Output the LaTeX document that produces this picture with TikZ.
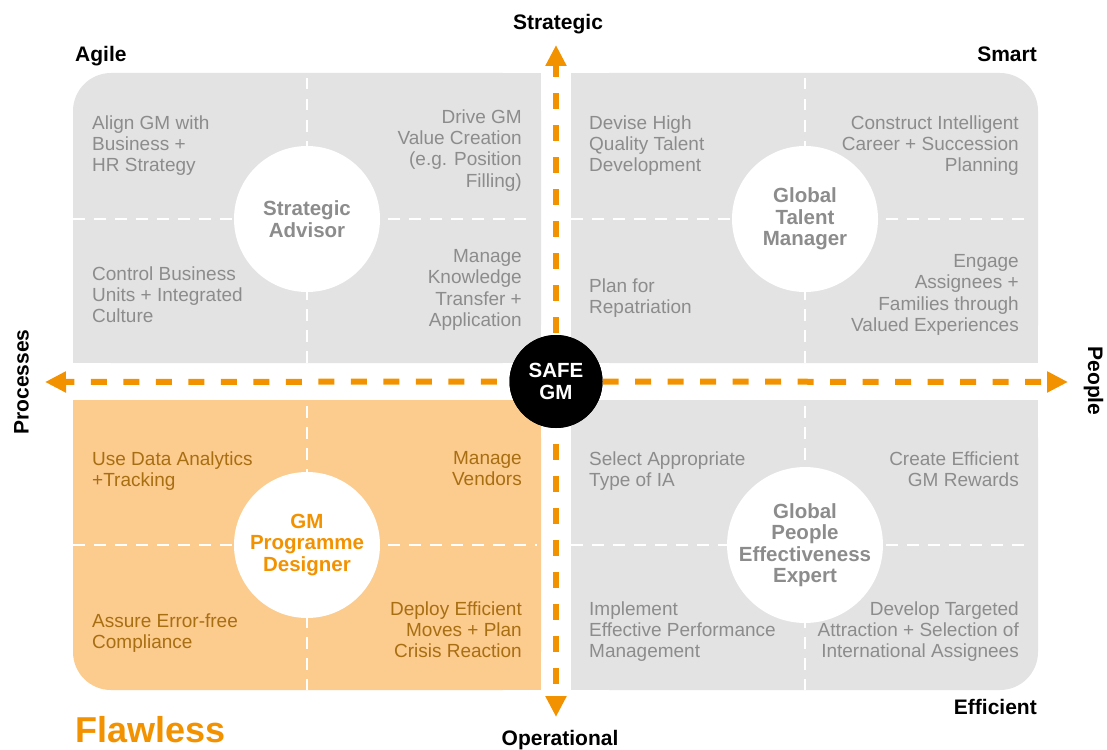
\documentclass[tikz,border=0pt]{standalone}
\usepackage{fontspec}
\setmainfont{Liberation Sans}
\usetikzlibrary{arrows.meta}
\definecolor{panelgray}{HTML}{E3E3E3}
\definecolor{panelorange}{HTML}{FCCB8E}
\definecolor{accent}{HTML}{F39200}
\definecolor{txtgray}{HTML}{8C8C8C}
\definecolor{txtbrown}{HTML}{A86E12}

\begin{document}
\begin{tikzpicture}[x=1pt,y=-1pt,
  body/.style={inner sep=0pt, font=\fontsize{19}{21.3}\selectfont, text=txtgray},
  bodyL/.style={body, anchor=north west, align=left},
  bodyR/.style={body, anchor=north east, align=right},
  role/.style={circle, fill=white, minimum size=146pt, inner sep=0pt, align=center,
               font=\bfseries\fontsize{20.5}{21.5}\selectfont, text=txtgray},
  corner/.style={inner sep=0pt, font=\bfseries\fontsize{21}{23}\selectfont},
  divider/.style={draw=white, line width=2.7pt, dash pattern=on 11.5pt off 9.5pt},
  axisline/.style={draw=accent, line width=6pt, -{Triangle[length=21pt, width=20pt]}},
]
\useasboundingbox (0,0) rectangle (1107,749);

% quadrant panels, outer corners rounded
\fill[panelgray, rounded corners=38pt] (73,73) rectangle (541,363);
\fill[panelgray] (200,73) rectangle (541,363);
\fill[panelgray] (73,200) rectangle (541,363);

\fill[panelgray, rounded corners=38pt] (571,73) rectangle (1038,363);
\fill[panelgray] (571,73) rectangle (900,363);
\fill[panelgray] (571,200) rectangle (1038,363);

\fill[panelorange, rounded corners=38pt] (73,400) rectangle (541,690);
\fill[panelorange] (200,400) rectangle (541,690);
\fill[panelorange] (73,400) rectangle (541,560);

\fill[panelgray, rounded corners=38pt] (571,400) rectangle (1038,690);
\fill[panelgray] (571,400) rectangle (900,690);
\fill[panelgray] (571,400) rectangle (1038,560);

% dashed dividers inside each panel
\draw[divider] (307,78) -- (307,363);
\draw[divider] (73,219) -- (533,219);
\draw[divider] (805,78) -- (805,363);
\draw[divider] (571,219) -- (1026,219);
\draw[divider] (307,406) -- (307,690);
\draw[divider] (73,545) -- (537,545);
\draw[divider] (805,406) -- (805,690);
\draw[divider] (571,545) -- (1030,545);

% role circles
\node[role] (sa) at (307,219) {Strategic\\Advisor};
\node[role] (gtm) at (805,219) {Global\\Talent\\Manager};
\node[role, text=accent] (gpd) at (307,545) {GM\\Programme\\Designer};
\node[role] (gpe) at (805,545) {Global\\People\\Effectiveness\\Expert};

% activities, strategic / processes
\node[bodyL] (t1) at (92,115.3) {Align GM with\\Business +\\HR Strategy};
\node[bodyR] (t2) at (522,109.3) {Drive GM\\Value Creation\\(e.g. Position\\Filling)};
\node[bodyL] (t3) at (92,266.3) {Control Business\\Units + Integrated\\Culture};
\node[bodyR] (t4) at (522,249.3) {Manage\\Knowledge\\Transfer +\\Application};

% activities, strategic / people
\node[bodyL] (t5) at (589,115.3) {Devise High\\Quality Talent\\Development};
\node[bodyR] (t6) at (1019,115.3) {Construct Intelligent\\Career + Succession\\Planning};
\node[bodyL] (t7) at (589,278.3) {Plan for\\Repatriation};
\node[bodyR] (t8) at (1019,254.3) {Engage\\Assignees +\\Families through\\Valued Experiences};

% activities, operational / processes
\node[bodyL, text=txtbrown] (t9) at (92,451.3) {Use Data Analytics\\+Tracking};
\node[bodyR, text=txtbrown] (t10) at (522,451.3) {Manage\\Vendors};
\node[bodyL, text=txtbrown] (t11) at (92,613.3) {Assure Error-free\\Compliance};
\node[bodyR, text=txtbrown] (t12) at (522,601.3) {Deploy Efficient\\Moves + Plan\\Crisis Reaction};

% activities, operational / people
\node[bodyL] (t13) at (589,451.3) {Select Appropriate\\Type of IA};
\node[bodyR] (t14) at (1019,451.3) {Create Efficient\\GM Rewards};
\node[bodyL] (t15) at (589,601.3) {Implement\\Effective Performance\\Management};
\node[bodyR] (t16) at (1019,601.3) {Develop Targeted\\Attraction + Selection of\\International Assignees};

% axes
\coordinate (up) at (556,45);
\coordinate (down) at (556,717);
\coordinate (left) at (45,382);
\coordinate (right) at (1068,382);
\node[circle, fill=black, minimum size=93pt, inner sep=0pt] (safe) at (556,381.5) {};
\draw[axisline, dash pattern=on 16pt off 16pt, dash phase=30pt] (safe) -- (up);
\draw[axisline, dash pattern=on 16pt off 16pt, dash phase=16pt] (safe) -- (down);
\draw[axisline, dash pattern=on 16pt off 16.5pt, dash phase=20pt] (safe) -- (left);
\draw[axisline, dash pattern=on 16pt off 16.5pt] (safe) -- (right);
\node[circle, fill=black, minimum size=93pt, inner sep=0pt, align=center, text=white,
      font=\bfseries\fontsize{20.5}{22}\selectfont] (safelbl) at (safe.center) {SAFE\\GM};

% axis and corner labels
\node[corner, anchor=base] (strategic) at (558,29.5) {Strategic};
\node[corner, anchor=base] (operational) at (560,745.5) {Operational};
\node[corner, anchor=base, rotate=90] (processes) at (28.5,382) {Processes};
\node[corner, anchor=base, rotate=-90] (people) at (1088,381) {People};
\node[corner, anchor=base west] (agile) at (75,61.5) {Agile};
\node[corner, anchor=base east] (smart) at (1037,61.5) {Smart};
\node[corner, anchor=base east] (efficient) at (1037,714.5) {Efficient};
\node[inner sep=0pt, anchor=base west, text=accent, font=\bfseries\fontsize{36}{40}\selectfont]
  (flawless) at (75,742) {Flawless};
\end{tikzpicture}
\end{document}
